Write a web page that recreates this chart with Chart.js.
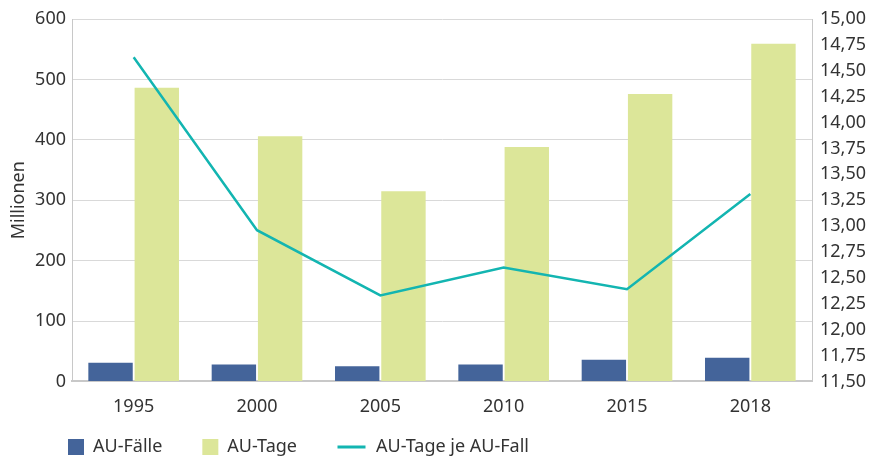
<!DOCTYPE html>
<html>
<head>
<meta charset="utf-8">
<script src="https://cdn.jsdelivr.net/npm/chart.js@4.4.1/dist/chart.umd.min.js"></script>
<style>
  html, body { margin: 0; padding: 0; background: #fff; }
  #wrap { width: 869px; height: 457px; }
</style>
</head>
<body>
<div id="wrap"><canvas id="auChart" width="869" height="457"></canvas></div>
<script>
const years = ['1995', '2000', '2005', '2010', '2015', '2018'];
const auFaelle = [31, 28, 25, 28, 36, 39];
const auTage = [486, 406, 315, 388, 476, 559];
const tageJeFall = [14.63, 12.96, 12.33, 12.60, 12.39, 13.31];

const txt = '#333333';
const teal = '#13b5b1';
const font = { family: 'Noto Sans', size: 18 };

// legend symbol for the line: a longer stroke than the built-in 'line' style
const lineSymbol = document.createElement('canvas');
lineSymbol.width = 44;
lineSymbol.height = 4;
const lc = lineSymbol.getContext('2d');
lc.fillStyle = teal;
lc.fillRect(14.5, 0.5, 28, 3);

// move the legend under the plot, left edge aligned with the axis
const legendShift = {
  id: 'legendShift',
  afterLayout(chart) {
    const lg = chart.legend;
    const h = lg.bottom - lg.top;
    lg.left = 28;
    lg.top = 398;
    lg.bottom = 398 + h;
  }
};

const ctx = document.getElementById('auChart');
new Chart(ctx, {
  data: {
    labels: years,
    datasets: [
      {
        type: 'bar',
        label: 'AU-Fälle',
        data: auFaelle,
        backgroundColor: '#44649a',
        yAxisID: 'y',
        order: 2,
        pointStyle: 'rect',
        categoryPercentage: 0.75,
        barPercentage: 0.96
      },
      {
        type: 'bar',
        label: 'AU-Tage',
        data: auTage,
        backgroundColor: '#dce699',
        yAxisID: 'y',
        order: 2,
        pointStyle: 'rect',
        categoryPercentage: 0.75,
        barPercentage: 0.96
      },
      {
        type: 'line',
        label: 'AU-Tage je AU-Fall',
        data: tageJeFall,
        borderColor: teal,
        backgroundColor: teal,
        borderWidth: 2.5,
        pointRadius: 0,
        tension: 0,
        yAxisID: 'y1',
        order: 1,
        pointStyle: lineSymbol
      }
    ]
  },
  options: {
    responsive: false,
    animation: false,
    layout: { padding: { top: 19, left: 0, right: 0, bottom: -36 } },
    plugins: {
      legend: {
        position: 'bottom',
        align: 'start',
        labels: {
          usePointStyle: true,
          boxWidth: 16,
          boxHeight: 16,
          padding: 40,
          color: txt,
          font: font,
          sort: (a, b) => a.datasetIndex - b.datasetIndex,
          generateLabels: (chart) => {
            const items = Chart.defaults.plugins.legend.labels.generateLabels(chart);
            items.forEach((it) => {
              if (it.datasetIndex === 2) it.text = '   ' + it.text;
            });
            return items;
          }
        }
      },
      tooltip: { enabled: false }
    },
    scales: {
      x: {
        grid: { display: false },
        border: { color: '#c8c8c8', width: 2 },
        ticks: { color: txt, font: font, padding: 7 }
      },
      y: {
        position: 'left',
        min: 0,
        max: 600,
        ticks: { stepSize: 100, color: txt, font: font, padding: 6 },
        grid: { color: '#d9d9d9', drawTicks: false },
        border: { color: '#c8c8c8' },
        title: { display: true, text: 'Millionen', color: txt, font: font, padding: { top: 8, bottom: 0 } },
        afterFit: (s) => { s.width = 72; }
      },
      y1: {
        position: 'right',
        min: 11.5,
        max: 15,
        ticks: {
          stepSize: 0.25,
          autoSkip: false,
          color: txt,
          font: font,
          padding: 8,
          callback: (v) => v.toFixed(2).replace('.', ',')
        },
        grid: { display: false, drawTicks: false },
        border: { color: '#c8c8c8' },
        afterFit: (s) => { s.width = 57; }
      }
    }
  },
  plugins: [legendShift]
});
</script>
</body>
</html>
